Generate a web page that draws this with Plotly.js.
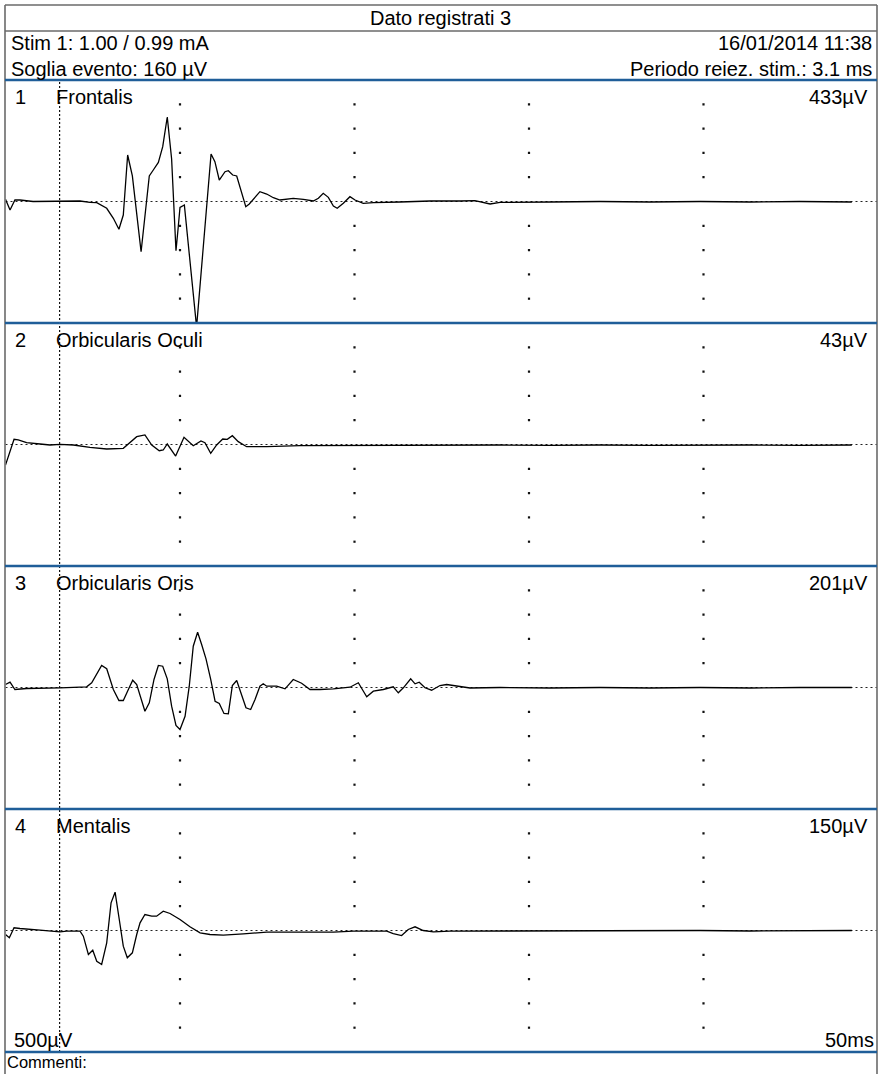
<!DOCTYPE html>
<html><head><meta charset="utf-8">
<script src="https://cdn.plot.ly/plotly-3.0.1.min.js"></script>
<style>html,body{margin:0;padding:0;background:#fff;overflow:hidden}</style>
</head><body><div id="chart" style="width:880px;height:1074px"></div>
<script>
// ---- data (time in ms, amplitude in µV) ----
const channelNumbers = ["1","2","3","4"];
const channelNames = ["Frontalis","Orbicularis Oculi","Orbicularis Oris","Mentalis"];
const channelAmps = ["433µV","43µV","201µV","150µV"];

const t1 = [0,0.26,0.54,0.83,1.58,3.12,4.27,4.84,5.23,5.80,6.18,6.50,6.75,7.00,7.27,7.77,8.24,8.47,8.76,9.01,9.27,9.52,9.77,9.90,10.0,10.25,10.95,11.78,12.0,12.25,12.58,12.77,13.02,13.25,13.77,13.97,14.30,14.58,14.97,15.35,15.73,16.49,17.07,17.64,17.93,18.21,18.50,18.79,19.01,19.36,19.74,20.03,20.50,21.08,22.6,24.33,26.05,26.9,27.77,28.34,31.2,34.07,36.93,39.8,42.66,45.5,48.5];
const v1 = [4.5,-17.5,3.1,3.1,0,0,1,-2,-2.5,-14,-34.6,-57.2,-27.8,95.7,52.5,-103.3,52.5,64.8,80.3,112.8,173.9,87.5,-101.3,-51.9,-12.3,-7.2,-258.3,97.8,81.9,44.2,61.3,63.4,54.5,52.5,-10.7,-5.1,9.9,20.2,15.4,7.8,3.1,6.6,4.5,1,6.6,16.9,8.6,-9.3,-14,-3.7,9.9,3.1,-3.7,-2.5,-1,1,1,2,-5.1,-2,-1,0,-1,0,-1,0,-1];

const t2 = [0,0.49,0.73,1.21,1.98,2.55,3.12,3.89,4.84,5.80,6.75,7.13,7.52,7.99,8.38,8.81,9.04,9.27,9.75,10.23,10.76,11.2,11.43,11.76,12.1,12.45,12.71,13.0,13.34,13.82,14.97,16.88,19.74,22.6,25.47,28.34,31.2,34.07,36.93,39.8,42.66,45.53,48.5];
const v2 = [-42.2,10.7,9.3,3.7,1,-1,0.4,-1,-5.8,-9.3,-7.8,4.5,16.1,19.6,-1,-12.8,-11.3,1,-23.7,14.8,-2.5,7.2,3.7,-18.1,-1,11.3,10.7,18.1,5.8,-4.5,-4.5,-2.5,-2,-2,-2,-1,-2,-1,-2,-1,-1,-2,-1];

const t3 = [0,0.26,0.54,1.21,3.12,4.65,4.94,5.23,5.51,5.80,6.18,6.50,6.75,7.04,7.29,7.52,7.99,8.24,8.51,8.76,9.01,9.27,9.52,9.77,10.0,10.29,10.53,10.76,11.01,11.24,11.49,11.76,12.01,12.25,12.52,12.77,13.0,13.25,13.54,13.78,14.05,14.3,14.58,14.77,14.97,15.54,16.02,16.49,16.97,17.45,18.02,18.79,19.74,20.22,20.7,21.08,21.65,22.22,22.51,22.8,23.22,23.47,23.71,24.04,24.42,24.9,25.28,25.76,26.62,28.34,31.2,34.07,36.93,39.8,42.66,45.53,48.5];
const v3 = [6.2,10.9,-4.1,-2.1,-0.6,1.4,9.7,26.8,45.3,38.5,-4.1,-26.8,-26.8,-4.1,15.0,6.2,-48.8,-31.5,16.5,45.3,43.8,17.9,-38.5,-78.2,-86.4,-59.1,2.7,85,113.8,88.5,59,16.5,-28.2,-32.9,-53.5,-54.1,4.1,14.4,-14.4,-41.8,-45.3,-24.7,2.7,7.6,2.7,2.7,-2.7,16.5,8.8,-4.1,-4.1,-2.7,0.6,9.7,-19.1,-7.6,-4.1,1.4,-10.9,-0.6,17.9,7.6,10.9,-0.6,-5.6,4.1,6.2,3.1,-1,0,-1,0,-1,0,-1,0,0];

const t4 = [0,0.22,0.49,0.83,1.98,3.12,3.51,4.27,4.46,4.75,5.0,5.23,5.51,5.80,6.05,6.28,6.52,6.75,6.98,7.27,7.52,7.71,7.99,8.38,8.66,9.04,9.43,10.0,10.57,11.15,11.72,12.48,13.63,14.97,16.88,18.79,19.93,21.85,22.22,22.7,23.08,23.47,23.94,24.52,25.47,28.34,31.2,34.07,36.93,39.8,42.66,45.53,48.5];
const v4 = [-8.2,-15,5.6,4.1,0.6,-2.7,-1.4,-1.4,-11.7,-49.4,-40.5,-63.2,-70,-25.3,57,78.8,22.6,-32.3,-56.2,-45.9,-8.2,15.8,32.9,29.4,29.4,39.7,35,22.6,7.6,-4.7,-8.2,-9.7,-6.8,-3.5,-3.5,-3.5,-1.4,-1.4,-6.2,-10.3,2.1,7.6,0,-2.7,-1.4,-1,0,-1,0,0,-1,0,0];

const timeRange = [0, 50];          // 5 divisions x 10 ms
const ampRange = [-250, 250];       // 10 divisions x 50 µV
const xDivisions = [10, 20, 30, 40];
const yDivisions = [-200, -150, -100, -50, 50, 100, 150, 200];
const stimMarkerMs = 3.1;

// ---- layout geometry (pixels) ----
const W = 880, H = 1074;
const px = x => x / W;
const py = y => 1 - y / H;
const frameL = 5, frameR = 877, frameT = 5;
const panelTop = [80, 323, 566, 809];
const panelH = 243;
const plotL = 5.5, plotR = 878;
const blue = '#1f5e99';
const frameCol = '#6a6a6a';
const FONT = 'Arial, "Liberation Sans", sans-serif';

const series = [[t1, v1], [t2, v2], [t3, v3], [t4, v4]];
const traces = [];
const gx = [], gy = [];
xDivisions.forEach(x => yDivisions.forEach(y => { gx.push(x); gy.push(y); }));

const layout = {
  width: W, height: H,
  margin: {l: 0, r: 0, t: 0, b: 0, pad: 0},
  paper_bgcolor: '#ffffff', plot_bgcolor: 'rgba(0,0,0,0)',
  showlegend: false,
  xaxis: {domain: [px(plotL), px(plotR)], range: timeRange, visible: false, fixedrange: true, anchor: 'y4'},
  shapes: [], annotations: []
};

series.forEach((s, i) => {
  const yk = i === 0 ? 'y' : 'y' + (i + 1);
  const ak = i === 0 ? 'yaxis' : 'yaxis' + (i + 1);
  const top = panelTop[i], bot = top + panelH;
  layout[ak] = {domain: [py(bot), py(top)], range: ampRange, visible: false, fixedrange: true, anchor: 'x'};
  // grid dots
  traces.push({x: gx, y: gy, xaxis: 'x', yaxis: yk, type: 'scatter', mode: 'markers',
    marker: {symbol: 'square', size: 2.2, color: '#111', line: {width: 0}}, hoverinfo: 'skip', cliponaxis: true});
  // signal
  traces.push({x: s[0], y: s[1], xaxis: 'x', yaxis: yk, type: 'scatter', mode: 'lines',
    line: {color: '#000', width: 1.3}, hoverinfo: 'skip'});
  // baseline dotted
  layout.shapes.push({type: 'line', xref: 'paper', yref: yk, x0: px(plotL), x1: px(frameR), y0: 0, y1: 0,
    line: {color: '#222', width: 1, dash: '2px,3px'}, layer: 'below'});
  // labels
  const ly = py(top + 16.5);
  layout.annotations.push({xref: 'paper', yref: 'paper', x: px(14), y: ly, xanchor: 'left', yanchor: 'middle',
    text: channelNumbers[i], showarrow: false, borderpad: 0, font: {family: FONT, size: 20, color: '#000'}});
  layout.annotations.push({xref: 'paper', yref: 'paper', x: px(55), y: ly, xanchor: 'left', yanchor: 'middle',
    text: channelNames[i], showarrow: false, borderpad: 0, font: {family: FONT, size: 20, color: '#000'}});
  layout.annotations.push({xref: 'paper', yref: 'paper', x: px(869), y: ly, xanchor: 'right', yanchor: 'middle',
    text: channelAmps[i], showarrow: false, borderpad: 0, font: {family: FONT, size: 20, color: '#000'}});
});

// stimulus marker (dense dotted vertical)
layout.shapes.push({type: 'line', xref: 'x', yref: 'paper', x0: stimMarkerMs, x1: stimMarkerMs,
  y0: py(1052), y1: py(80), line: {color: '#111', width: 1.2, dash: '2px,2px'}, layer: 'below'});

// frame
const frameLine = (x0, y0, x1, y1, col, w) => layout.shapes.push({type: 'line', xref: 'paper', yref: 'paper',
  x0: px(x0), x1: px(x1), y0: py(y0), y1: py(y1), line: {color: col, width: w}, layer: 'above'});
frameLine(frameL, frameT, frameR, frameT, frameCol, 1.6);
frameLine(frameL, frameT, frameL, H + 2, frameCol, 1.6);
frameLine(frameR, frameT, frameR, H + 2, frameCol, 1.6);
frameLine(frameL, 31, frameR, 31, frameCol, 1.4);
[80, 323, 566, 809, 1052].forEach(y => frameLine(frameL, y, frameR, y, blue, 2.6));

// header / footer texts
const txt = (x, y, s, anchor, size) => layout.annotations.push({xref: 'paper', yref: 'paper', x: px(x), y: py(y),
  xanchor: anchor, yanchor: 'middle', text: s, showarrow: false, borderpad: 0,
  font: {family: FONT, size: size || 20, color: '#000'}});
txt(441, 18, 'Dato registrati 3', 'center');
txt(10, 42.5, 'Stim 1: 1.00 / 0.99 mA', 'left');
txt(873, 42.5, '16/01/2014 11:38', 'right');
txt(10, 69, 'Soglia evento: 160 µV', 'left');
txt(873, 69, 'Periodo reiez. stim.: 3.1 ms', 'right');
txt(12.5, 1039.5, '500µV', 'left');
txt(874.5, 1039.5, '50ms', 'right');
txt(6, 1062, 'Commenti:', 'left', 16.5);

Plotly.newPlot('chart', traces, layout, {staticPlot: true, displayModeBar: false});
</script></body></html>
